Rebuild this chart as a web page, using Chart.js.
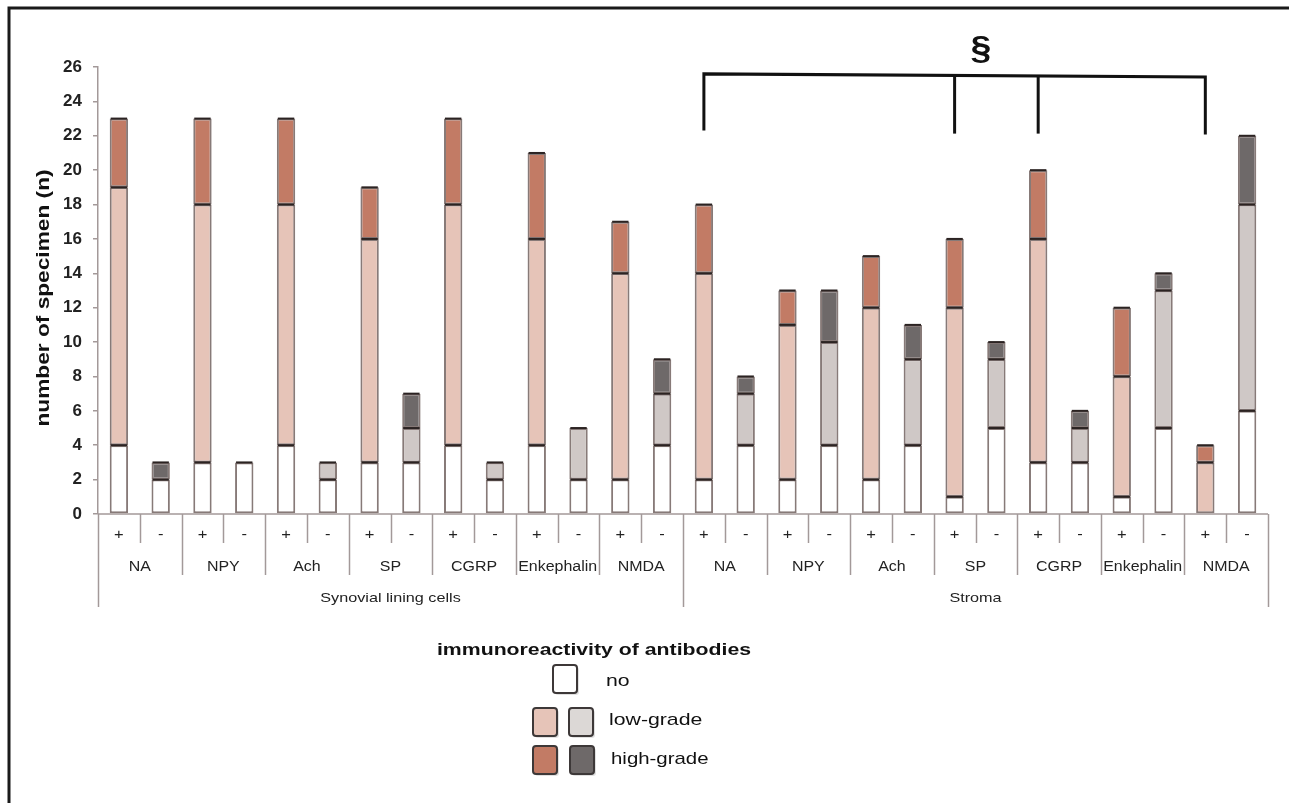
<!DOCTYPE html>
<html>
<head>
<meta charset="utf-8">
<script src="https://cdn.jsdelivr.net/npm/chart.js@4.4.1/dist/chart.umd.min.js"></script>
<style>
  html, body { margin: 0; padding: 0; background: #fff; }
  canvas { display: block; }
</style>
</head>
<body>
<canvas id="grafico" width="1289" height="803"></canvas>
<script>
// Datos
const secciones = ['Synovial lining cells', 'Stroma'];
const anticuerpos = ['NA', 'NPY', 'Ach', 'SP', 'CGRP', 'Enkephalin', 'NMDA'];
const signos = ['+', '-'];
const ticksY = [0, 2, 4, 6, 8, 10, 12, 14, 16, 18, 20, 22, 24, 26];

// no / low-grade / high-grade, una barra por categoria (seccion x anticuerpo x signo)
const valoresNo   = [4, 2, 3, 3, 4, 2, 3, 3, 4, 2, 4, 2, 2, 4,   2, 4, 2, 4, 2, 4, 1, 5, 3, 3, 1, 5, 0, 6];
const valoresLow  = [15, 0, 15, 0, 14, 1, 13, 2, 14, 1, 12, 3, 12, 3,   12, 3, 9, 6, 10, 5, 11, 4, 13, 2, 7, 8, 3, 12];
const valoresHigh = [4, 1, 5, 0, 5, 0, 3, 2, 5, 0, 5, 0, 3, 2,   4, 1, 2, 3, 3, 2, 4, 1, 4, 1, 4, 1, 1, 4];

// barras unidas por el corchete de significancia (§)
const indicesCorchete = [14, 20, 22, 26];

// categorias
const categorias = [];
const signoCategoria = [];
secciones.forEach(sec => {
    anticuerpos.forEach(ab => {
        signos.forEach(s => {
            categorias.push(sec + ' ' + ab + ' ' + s);
            signoCategoria.push(s);
        });
    });
});

const colores = {
    no: '#ffffff',
    lowPos: '#e6c4b8',
    lowNeg: '#cfc8c6',
    highPos: '#c27b65',
    highNeg: '#6e6969',
    borde: '#877a78',
    linea: '#a39999'
};

const fuente = '"Liberation Sans", Arial, Helvetica, sans-serif';

// texto ensanchado (la figura original tiene letras mas anchas)
function textoAncho(ctx, texto, x, y, font, ancho, align) {
    ctx.save();
    ctx.font = font;
    ctx.textAlign = align || 'center';
    ctx.textBaseline = 'middle';
    ctx.translate(x, y);
    ctx.scale(ancho, 1);
    ctx.fillText(texto, 0, 0);
    ctx.restore();
}

// Plugin para dibujar tabla de ejes, corchete, titulo Y y leyenda
const pluginDecoracion = {
    id: 'decoracion',
    afterDatasetsDraw(chart) {
        const ctx = chart.ctx;
        ctx.save();
        ctx.strokeStyle = '#2b2322';
        ctx.lineWidth = 2;
        chart.data.datasets.forEach((ds, i) => {
            const meta = chart.getDatasetMeta(i);
            meta.data.forEach((el, j) => {
                if (!ds.data[j]) return;
                ctx.beginPath();
                ctx.moveTo(el.x - el.width / 2 + 1, el.y);
                ctx.lineTo(el.x + el.width / 2 - 1, el.y);
                ctx.stroke();
            });
        });
        ctx.restore();
    },
    afterDraw(chart) {
        const ctx = chart.ctx;
        const area = chart.chartArea;
        const x = chart.scales.x;
        const y = chart.scales.y;
        const n = categorias.length;
        const paso = (area.right - area.left) / n;

        ctx.save();

        // marco de la figura (arriba e izquierda)
        ctx.strokeStyle = '#1a1a1a';
        ctx.lineWidth = 3;
        ctx.beginPath();
        ctx.moveTo(9, 803);
        ctx.lineTo(9, 8);
        ctx.lineTo(1289, 8);
        ctx.stroke();

        // linea del eje X
        ctx.strokeStyle = colores.linea;
        ctx.lineWidth = 1.5;
        ctx.beginPath();
        ctx.moveTo(area.left, area.bottom);
        ctx.lineTo(area.right, area.bottom);
        ctx.stroke();

        // separadores de la tabla de categorias
        for (let i = 0; i <= n; i++) {
            const px = Math.round(area.left + i * paso) + 0.5;
            let fin;
            if (i % 14 === 0) fin = 607;
            else if (i % 2 === 0) fin = 575;
            else fin = 543;
            ctx.beginPath();
            ctx.moveTo(px, area.bottom);
            ctx.lineTo(px, fin);
            ctx.stroke();
        }

        // textos de la tabla
        ctx.fillStyle = '#222';
        signoCategoria.forEach((s, i) => {
            textoAncho(ctx, s, x.getPixelForValue(i), 535, '15px ' + fuente, 1.1);
        });
        secciones.forEach((sec, si) => {
            anticuerpos.forEach((ab, ai) => {
                const i0 = si * 14 + ai * 2;
                const cx = (x.getPixelForValue(i0) + x.getPixelForValue(i0 + 1)) / 2;
                textoAncho(ctx, ab, cx, 567, '14px ' + fuente, 1.14);
            });
            const c0 = (x.getPixelForValue(si * 14) + x.getPixelForValue(si * 14 + 13)) / 2;
            textoAncho(ctx, sec, c0, 598, '13.5px ' + fuente, 1.2);
        });

        // titulo eje Y
        ctx.save();
        ctx.translate(44, 298);
        ctx.rotate(-Math.PI / 2);
        ctx.fillStyle = '#111';
        textoAncho(ctx, 'number of specimen (n)', 0, 0, 'bold 18px ' + fuente, 1.26);
        ctx.restore();

        // corchete de significancia
        const yArriba = y.getPixelForValue(25.6);
        const yAbajo = y.getPixelForValue(22.3);
        const xs = indicesCorchete.map(i => x.getPixelForValue(i));
        ctx.strokeStyle = '#111';
        ctx.lineWidth = 3;
        ctx.beginPath();
        ctx.moveTo(xs[0], yAbajo);
        ctx.lineTo(xs[0], yArriba);
        ctx.lineTo(xs[xs.length - 1], yArriba + 3);
        ctx.lineTo(xs[xs.length - 1], yAbajo + 4);
        ctx.stroke();
        xs.slice(1, -1).forEach(px => {
            ctx.beginPath();
            ctx.moveTo(px, yArriba + 2);
            ctx.lineTo(px, yAbajo + 3);
            ctx.stroke();
        });
        ctx.fillStyle = '#111';
        textoAncho(ctx, '§', 981, 50, 'bold 34px ' + fuente, 1.1);

        // leyenda
        ctx.fillStyle = '#111';
        textoAncho(ctx, 'immunoreactivity of antibodies', 594, 650, 'bold 17px ' + fuente, 1.25);

        const caja = (bx, by, color) => {
            ctx.fillStyle = 'rgba(0,0,0,0.12)';
            ctx.beginPath();
            ctx.roundRect(bx + 2, by + 2, 24, 28, 3);
            ctx.fill();
            ctx.fillStyle = color;
            ctx.strokeStyle = '#3d3838';
            ctx.lineWidth = 2;
            ctx.beginPath();
            ctx.roundRect(bx, by, 24, 28, 3);
            ctx.fill();
            ctx.stroke();
        };
        caja(553, 665, colores.no);
        caja(533, 708, colores.lowPos);
        caja(569, 708, '#dcd8d6');
        caja(533, 746, colores.highPos);
        caja(570, 746, colores.highNeg);

        ctx.fillStyle = '#111';
        textoAncho(ctx, 'no', 606, 681, '17px ' + fuente, 1.25, 'left');
        textoAncho(ctx, 'low-grade', 609, 720, '17px ' + fuente, 1.25, 'left');
        textoAncho(ctx, 'high-grade', 611, 759, '17px ' + fuente, 1.2, 'left');

        ctx.restore();
    }
};

function inicializarGrafico() {
    const ctx = document.getElementById('grafico').getContext('2d');
    const comunes = {
        borderColor: colores.borde,
        borderWidth: 2,
        borderSkipped: false,
        barPercentage: 0.44,
        categoryPercentage: 1
    };
    new Chart(ctx, {
        type: 'bar',
        data: {
            labels: categorias,
            datasets: [
                Object.assign({
                    label: 'no',
                    data: valoresNo,
                    backgroundColor: colores.no
                }, comunes),
                Object.assign({
                    label: 'low-grade',
                    data: valoresLow,
                    backgroundColor: signoCategoria.map(s => s === '+' ? colores.lowPos : colores.lowNeg)
                }, comunes),
                Object.assign({
                    label: 'high-grade',
                    data: valoresHigh,
                    backgroundColor: signoCategoria.map(s => s === '+' ? colores.highPos : colores.highNeg)
                }, comunes)
            ]
        },
        options: {
            responsive: false,
            devicePixelRatio: 1,
            animation: false,
            layout: { padding: { left: 0, right: 21, top: 67, bottom: 289 } },
            plugins: {
                legend: { display: false },
                tooltip: { enabled: false }
            },
            scales: {
                x: {
                    stacked: true,
                    display: false
                },
                y: {
                    stacked: true,
                    min: 0,
                    max: 26,
                    afterFit: scale => { scale.width = 98; },
                    afterBuildTicks: scale => { scale.ticks = ticksY.map(v => ({ value: v })); },
                    ticks: {
                        color: '#222',
                        padding: 11,
                        font: { family: fuente, size: 17, weight: 'bold' }
                    },
                    grid: {
                        drawOnChartArea: false,
                        tickLength: 5,
                        color: colores.linea,
                        lineWidth: 1.5
                    },
                    border: { color: colores.linea, width: 1.5 }
                }
            }
        },
        plugins: [pluginDecoracion]
    });
}

document.addEventListener('DOMContentLoaded', inicializarGrafico);
</script>
</body>
</html>
